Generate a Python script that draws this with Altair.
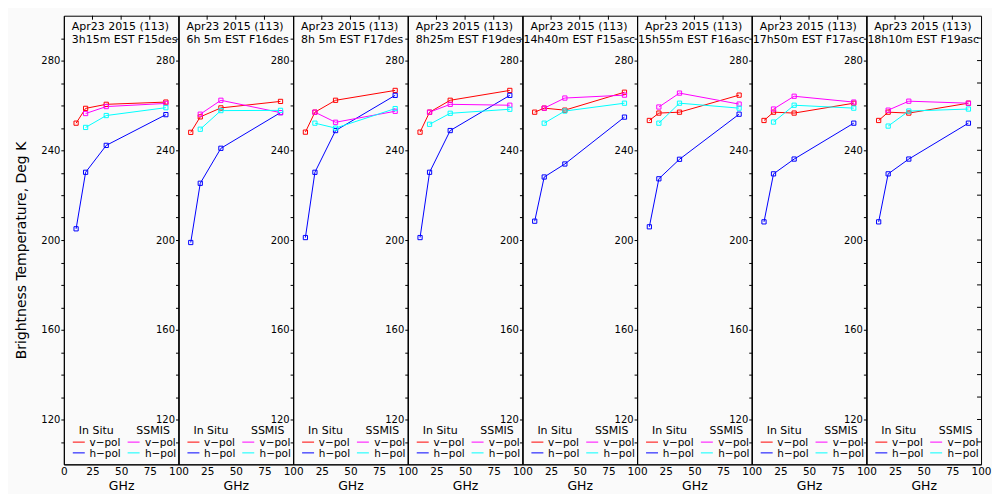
import altair as alt
import pandas as pd

FONT = "DejaVu Sans"

insitu_freq = [10.7, 19.0, 37.0, 89.0]
ssmis_freq = [19.0, 37.0, 89.0]

title_line1 = ["Apr23 2015 (113)"] * 8
title_line2 = [
    "3h15m EST F15des", "6h 5m EST F16des", "8h 5m EST F17des", "8h25m EST F19des",
    "14h40m EST F15asc", "15h55m EST F16asc", "17h50m EST F17asc", "18h10m EST F19asc",
]

insitu_v = [
    [252.1, 258.7, 260.5, 261.5],
    [248.0, 254.9, 258.9, 261.8],
    [248.1, 257.0, 262.3, 266.7],
    [248.1, 257.0, 262.3, 266.7],
    [257.0, 258.8, 257.9, 265.9],
    [253.3, 256.6, 257.0, 264.6],
    [253.3, 257.0, 256.6, 261.0],
    [253.3, 257.0, 256.6, 261.0],
]
insitu_h = [
    [205.0, 230.2, 242.2, 255.9],
    [198.9, 225.3, 240.9, 256.8],
    [201.1, 230.2, 248.8, 264.5],
    [201.1, 230.2, 248.8, 264.5],
    [208.4, 228.1, 233.9, 254.8],
    [205.9, 227.3, 236.0, 256.1],
    [208.1, 229.5, 236.1, 252.1],
    [208.1, 229.5, 236.1, 252.1],
]
ssmis_v = [
    [256.4, 259.5, 260.9],
    [256.1, 262.3, 256.8],
    [257.0, 252.5, 257.4],
    [257.0, 260.5, 260.1],
    [258.8, 263.3, 264.6],
    [259.3, 265.5, 260.6],
    [258.4, 264.1, 261.5],
    [257.9, 261.9, 261.0],
]
ssmis_h = [
    [250.2, 255.5, 259.0],
    [249.4, 257.7, 257.8],
    [252.1, 249.9, 258.6],
    [251.6, 256.5, 258.3],
    [252.1, 257.5, 261.0],
    [252.1, 261.0, 258.8],
    [252.6, 260.1, 258.8],
    [250.8, 257.5, 258.4],
]

series_names = ["In Situ v-pol", "In Situ h-pol", "SSMIS v-pol", "SSMIS h-pol"]
series_colors = ["#ff0000", "#0000ff", "#ff00ff", "#00ffff"]
x_ticks = [0, 25, 50, 75, 100]
x_inner_ticks = [25, 50, 75]
y_ticks = list(range(110, 300, 10))

W, H = 115, 450


def one(**kw):
    return pd.DataFrame({k: [v] for k, v in kw.items()})


def txt(s, x, y, size=11):
    return alt.Chart(one(t=s)).mark_text(
        align="left", baseline="alphabetic", fontSize=size, font=FONT, color="black"
    ).encode(text="t:N", x=alt.value(x), y=alt.value(y))


def seg(color, x1, x2, y):
    return alt.Chart(one(a=0)).mark_rule(color=color, strokeWidth=1).encode(
        x=alt.value(x1), x2=alt.value(x2), y=alt.value(y)
    )


def panel(i):
    rows = []
    for f, t in zip(insitu_freq, insitu_v[i]):
        rows.append(dict(freq=f, temp=t, s=series_names[0]))
    for f, t in zip(insitu_freq, insitu_h[i]):
        rows.append(dict(freq=f, temp=t, s=series_names[1]))
    for f, t in zip(ssmis_freq, ssmis_v[i]):
        rows.append(dict(freq=f, temp=t, s=series_names[2]))
    for f, t in zip(ssmis_freq, ssmis_h[i]):
        rows.append(dict(freq=f, temp=t, s=series_names[3]))
    df = pd.DataFrame(rows)

    label_expr = "datum.label" if i == 0 else "datum.value == 0 ? '' : datum.label"
    xenc = alt.X(
        "freq:Q",
        scale=alt.Scale(domain=[0, 100], nice=False),
        axis=alt.Axis(values=x_ticks, labelExpr=label_expr, ticks=False, labelPadding=2,
                      labelFontSize=10.5, titleFontSize=12.5, titlePadding=3,
                      titleFontWeight="normal", labelFlush=False),
        title="GHz",
    )
    yaxis_kw = dict(values=y_ticks,
                    labelExpr="(datum.value - 120) % 40 == 0 ? datum.label : ''",
                    tickSize=3, labelPadding=1, labelFontSize=10, labelFlush=False)
    if i == 0:
        yenc = alt.Y("temp:Q", scale=alt.Scale(domain=[100, 300], nice=False, zero=False),
                     axis=alt.Axis(titleFontSize=14, titleFontWeight="normal", titlePadding=12,
                                   titleY=235, **yaxis_kw),
                     title="Brightness Temperature, Deg K")
    else:
        yenc = alt.Y("temp:Q", scale=alt.Scale(domain=[100, 300], nice=False, zero=False),
                     axis=alt.Axis(**yaxis_kw), title=None)

    color = alt.Color("s:N", scale=alt.Scale(domain=series_names, range=series_colors), legend=None)
    base = alt.Chart(df).encode(x=xenc, y=yenc, color=color)
    lines = base.mark_line(strokeWidth=1)
    pts = base.mark_point(shape="square", filled=False, size=18, strokeWidth=1, opacity=1)

    top_ticks = alt.Chart(pd.DataFrame({"freq": x_inner_ticks})).mark_rule(
        color="black", strokeWidth=1
    ).encode(x=xenc, y=alt.value(0), y2=alt.value(4))

    l2x = 8 if len(title_line2[i]) <= 16 else 1
    layers = [
        lines, pts, top_ticks,
        txt(title_line1[i], 8, 14.5),
        txt(title_line2[i], l2x, 27.5),
        txt("In Situ", 15, 419.3),
        txt("SSMIS", 72.7, 419.3),
        seg(series_colors[0], 9, 21, 427.7),
        seg(series_colors[1], 9, 21, 438.5),
        seg(series_colors[2], 64, 76, 427.7),
        seg(series_colors[3], 64, 76, 438.5),
        txt("v\u2212pol", 25.7, 431.3, 10.5),
        txt("h\u2212pol", 25.7, 442.2, 10.5),
        txt("v\u2212pol", 81.3, 431.3, 10.5),
        txt("h\u2212pol", 81.3, 442.2, 10.5),
    ]
    if i == 7:
        right_ticks = alt.Chart(pd.DataFrame({"temp": y_ticks})).mark_rule(
            color="black", strokeWidth=1
        ).encode(y=yenc, x=alt.value(W - 4), x2=alt.value(W))
        layers.append(right_ticks)
    return alt.layer(*layers).properties(width=W, height=H)


chart = alt.hconcat(*[panel(i) for i in range(8)], spacing=0, bounds="flush").properties(
    padding={"left": 6, "top": 6, "right": 0, "bottom": 0}
).configure(background="#fafafa").configure_view(
    stroke="black", strokeWidth=1
).configure_axis(
    labelFont=FONT, titleFont=FONT, labelColor="black", titleColor="black",
    domainColor="black", tickColor="black", grid=False, domainWidth=1, tickWidth=1
)

chart.save("out.html", embed_options={"renderer": "svg", "actions": False})
